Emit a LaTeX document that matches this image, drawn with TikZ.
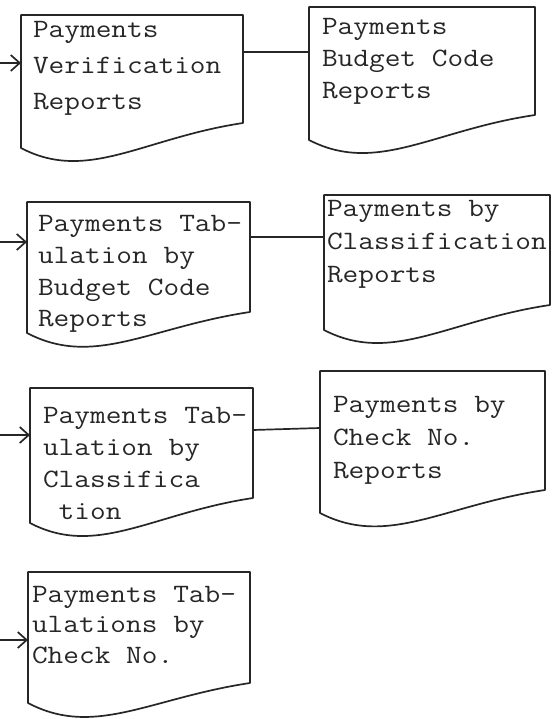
\documentclass[tikz,border=0pt]{standalone}
\usepackage{fontspec}
\usepackage{graphicx}
\usetikzlibrary{arrows.meta}
\tikzset{
  boxarea/.style={draw=none, rectangle, inner sep=0pt, outer sep=0pt},
  docline/.style={draw=black!85, line width=1.7pt, line join=round},
  txt/.style={inner sep=0pt, outer sep=0pt, font=\ttfamily, text=black!85},
  conn/.style={draw=black!85, line width=1.7pt},
  inarrow/.style={draw=black!85, line width=1.7pt, -{Straight Barb[length=9pt,width=16pt,line width=1.7pt]}}
}
\newcommand\docbox[6]{%
  \pgfmathsetmacro\dw{#4-#2}%
  \pgfmathsetmacro\dh{#6-#3}%
  \pgfmathsetmacro\cxa{#2+0.55*\dw}%
  \pgfmathsetmacro\cxb{#2+0.3*\dw}%
  \node[boxarea, minimum width=\dw pt, minimum height=\dh pt, anchor=north west] (#1) at (#2,#3) {};
  \draw[docline] (#1.north west) -- (#1.north east) -- (#4,#5) .. controls (\cxa,#5+15) and (\cxb,#6+35) .. (#1.south west) -- cycle;
}
\newcommand\doctext[5]{%
  \node[txt, anchor=base west] (#1) at (#2,#3) {\fontsize{26.5}{#4}\selectfont\scalebox{1.15}[1]{\begin{tabular}[t]{@{}l@{}}#5\end{tabular}}};
}
\begin{document}
\begin{tikzpicture}[x=1pt,y=-1pt]
\useasboundingbox (0,0) rectangle (557,719);
% boxes
\docbox{b1}{21}{15}{243}{123}{148}
\docbox{b2}{309}{7}{535}{115}{140}
\docbox{b3}{27}{202}{250}{312}{333}
\docbox{b4}{324}{195}{550}{305}{330}
\docbox{b5}{30}{388}{253}{498}{523}
\docbox{b6}{320}{371}{545}{490}{513}
\docbox{b7}{28}{572}{250}{683}{703}
% texts
\doctext{t1}{33}{38}{36}{Payments\\Verification\\Reports}
\doctext{t2}{322}{35}{32}{Payments\\Budget Code\\Reports}
\doctext{t3}{38}{232}{31.5}{Payments Tab-\\ulation by\\Budget Code\\Reports}
\doctext{t4}{327}{217}{32.5}{Payments by\\Classification\\Reports}
\doctext{t5}{43}{423}{32.3}{Payments Tab-\\ulation by\\Classifica\\\hphantom{C}tion}
\doctext{t6}{333}{412}{33}{Payments by\\Check No.\\Reports}
\doctext{t7}{32}{602}{30.5}{Payments Tab-\\ulations by\\Check No.}
% incoming arrows
\coordinate (in1) at (0,63);
\coordinate (in2) at (0,242);
\coordinate (in3) at (0,435);
\coordinate (in4) at (0,640);
\draw[inarrow] (in1) -- (in1 -| b1.west);
\draw[inarrow] (in2) -- (in2 -| b3.west);
\draw[inarrow] (in3) -- (in3 -| b5.west);
\draw[inarrow] (in4) -- (in4 -| b7.west);
% connectors
\draw[conn] ([yshift=-37pt]b1.north east) -- ([yshift=-45pt]b2.north west);
\draw[conn] ([yshift=-35pt]b3.north east) -- ([yshift=-42pt]b4.north west);
\draw[conn] ([yshift=-42pt]b5.north east) -- ([yshift=-57pt]b6.north west);
\end{tikzpicture}
\end{document}
